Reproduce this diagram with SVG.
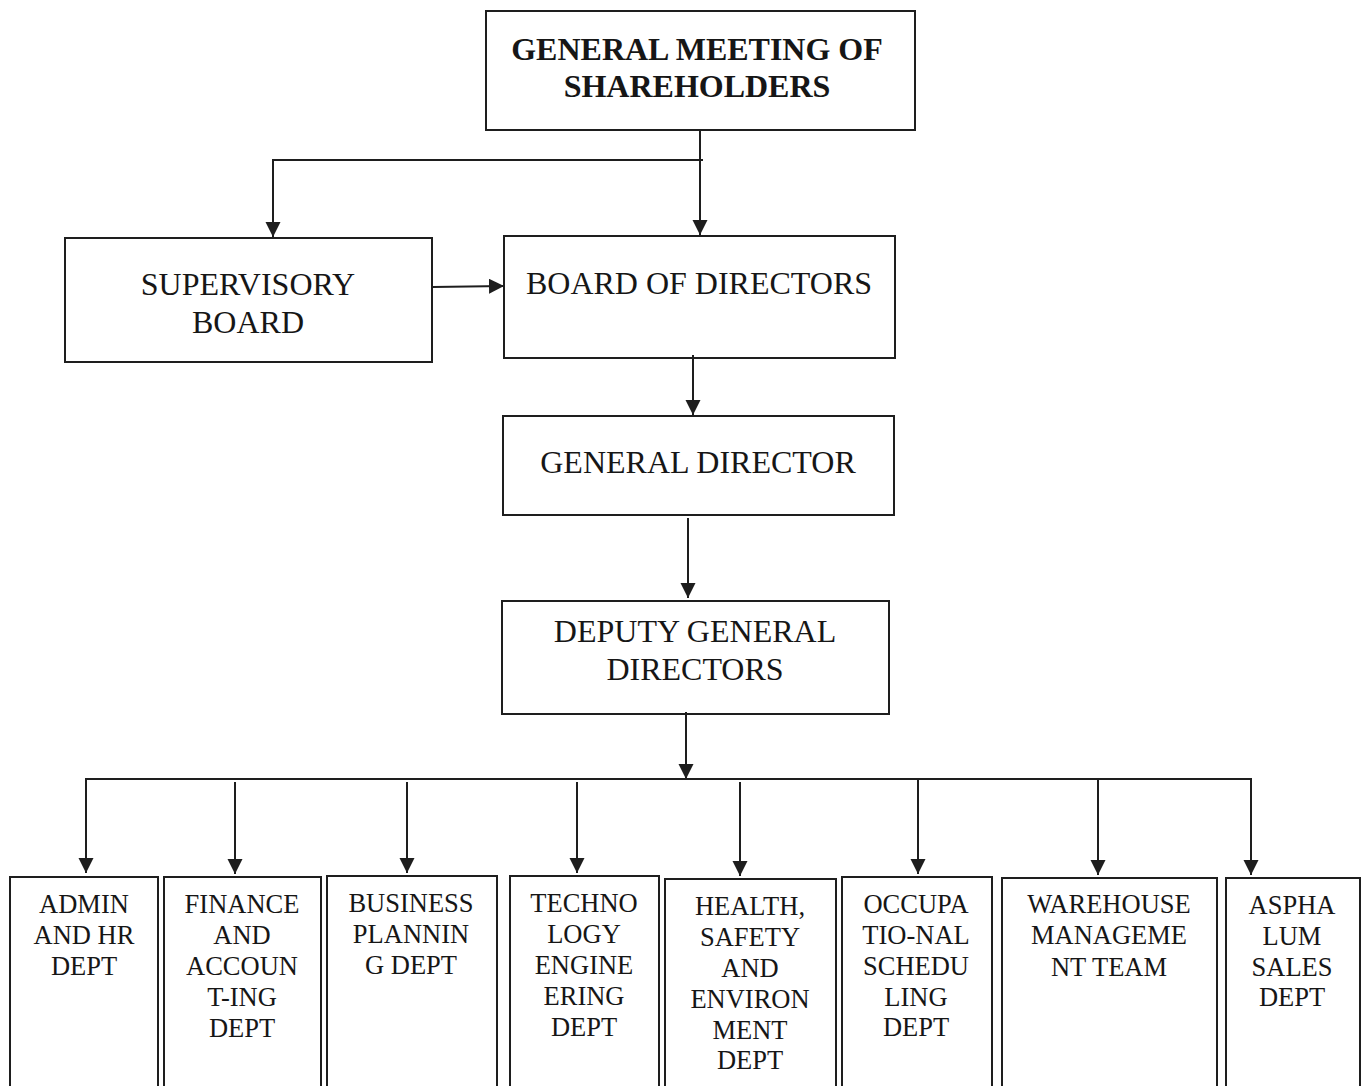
<svg xmlns="http://www.w3.org/2000/svg" width="1362" height="1086" viewBox="0 0 1362 1086">
<style>
.box{fill:none;stroke:#1e1e1e;stroke-width:2}
.t{font-family:'Liberation Serif','Times New Roman',Tinos,Times,'Nimbus Roman','DejaVu Serif',serif;font-size:32px;fill:#161616;text-anchor:middle}
.b{font-weight:bold}
.s{font-size:26.5px}
.c{fill:none;stroke:#1e1e1e;stroke-width:2}
</style>
<defs>
<marker id="ah" markerUnits="userSpaceOnUse" markerWidth="16" markerHeight="16" refX="15" refY="7.5" orient="auto">
<path d="M0,0 L15,7.5 L0,15 z" fill="#1e1e1e"/>
</marker>
</defs>
<rect width="1362" height="1086" fill="#ffffff"/>

<g id="connectors">
<line class="c" x1="700" y1="130" x2="700" y2="235" marker-end="url(#ah)"/>
<polyline class="c" points="703,160 273,160 273,237" marker-end="url(#ah)"/>
<line class="c" x1="433" y1="287" x2="504" y2="286" marker-end="url(#ah)"/>
<line class="c" x1="693" y1="355" x2="693" y2="415" marker-end="url(#ah)"/>
<line class="c" x1="688" y1="518" x2="688" y2="598" marker-end="url(#ah)"/>
<line class="c" x1="686" y1="712" x2="686" y2="779" marker-end="url(#ah)"/>
<line class="c" x1="86" y1="779" x2="1252" y2="779"/>
<line class="c" x1="86" y1="778" x2="86" y2="873" marker-end="url(#ah)"/>
<line class="c" x1="235" y1="782" x2="235" y2="874" marker-end="url(#ah)"/>
<line class="c" x1="407" y1="782" x2="407" y2="873" marker-end="url(#ah)"/>
<line class="c" x1="577" y1="782" x2="577" y2="873" marker-end="url(#ah)"/>
<line class="c" x1="740" y1="782" x2="740" y2="876" marker-end="url(#ah)"/>
<line class="c" x1="918" y1="779" x2="918" y2="874" marker-end="url(#ah)"/>
<line class="c" x1="1098" y1="779" x2="1098" y2="875" marker-end="url(#ah)"/>
<line class="c" x1="1251" y1="778" x2="1251" y2="875" marker-end="url(#ah)"/>
</g>

<g id="n-gms">
<rect class="box" x="486" y="11" width="429" height="119"/>
<text class="t b" x="697" y="60">GENERAL MEETING OF</text>
<text class="t b" x="697" y="97">SHAREHOLDERS</text>
</g>
<g id="n-supervisory">
<rect class="box" x="65" y="238" width="367" height="124"/>
<text class="t" x="248" y="295">SUPERVISORY</text>
<text class="t" x="248" y="333">BOARD</text>
</g>
<g id="n-board">
<rect class="box" x="504" y="236" width="391" height="122"/>
<text class="t" x="699" y="294">BOARD OF DIRECTORS</text>
</g>
<g id="n-gd">
<rect class="box" x="503" y="416" width="391" height="99"/>
<text class="t" x="698" y="473">GENERAL DIRECTOR</text>
</g>
<g id="n-deputy">
<rect class="box" x="502" y="601" width="387" height="113"/>
<text class="t" x="695" y="642">DEPUTY GENERAL</text>
<text class="t" x="695" y="680">DIRECTORS</text>
</g>

<g id="n-admin">
<rect class="box" x="10" y="877" width="148" height="220"/>
<text class="t s" x="84" y="913">ADMIN</text>
<text class="t s" x="84" y="944">AND HR</text>
<text class="t s" x="84" y="975">DEPT</text>
</g>
<g id="n-finance">
<rect class="box" x="164" y="877" width="157" height="220"/>
<text class="t s" x="242" y="913">FINANCE</text>
<text class="t s" x="242" y="944">AND</text>
<text class="t s" x="242" y="975">ACCOUN</text>
<text class="t s" x="242" y="1006">T-ING</text>
<text class="t s" x="242" y="1037">DEPT</text>
</g>
<g id="n-business">
<rect class="box" x="327" y="876" width="170" height="220"/>
<text class="t s" x="411" y="912">BUSINESS</text>
<text class="t s" x="411" y="943">PLANNIN</text>
<text class="t s" x="411" y="974">G DEPT</text>
</g>
<g id="n-tech">
<rect class="box" x="510" y="876" width="149" height="220"/>
<text class="t s" x="584" y="912">TECHNO</text>
<text class="t s" x="584" y="943">LOGY</text>
<text class="t s" x="584" y="974">ENGINE</text>
<text class="t s" x="584" y="1005">ERING</text>
<text class="t s" x="584" y="1036">DEPT</text>
</g>
<g id="n-hse">
<rect class="box" x="665" y="879" width="171" height="220"/>
<text class="t s" x="750" y="915">HEALTH,</text>
<text class="t s" x="750" y="946">SAFETY</text>
<text class="t s" x="750" y="977">AND</text>
<text class="t s" x="750" y="1008">ENVIRON</text>
<text class="t s" x="750" y="1039">MENT</text>
<text class="t s" x="750" y="1069">DEPT</text>
</g>
<g id="n-occupational">
<rect class="box" x="842" y="877" width="150" height="220"/>
<text class="t s" x="916" y="913">OCCUPA</text>
<text class="t s" x="916" y="944">TIO-NAL</text>
<text class="t s" x="916" y="975">SCHEDU</text>
<text class="t s" x="916" y="1006">LING</text>
<text class="t s" x="916" y="1036">DEPT</text>
</g>
<g id="n-warehouse">
<rect class="box" x="1002" y="878" width="215" height="220"/>
<text class="t s" x="1109" y="913">WAREHOUSE</text>
<text class="t s" x="1109" y="944">MANAGEME</text>
<text class="t s" x="1109" y="976">NT TEAM</text>
</g>
<g id="n-asphalum">
<rect class="box" x="1226" y="878" width="134" height="220"/>
<text class="t s" x="1292" y="914">ASPHA</text>
<text class="t s" x="1292" y="945">LUM</text>
<text class="t s" x="1292" y="976">SALES</text>
<text class="t s" x="1292" y="1006">DEPT</text>
</g>
</svg>
